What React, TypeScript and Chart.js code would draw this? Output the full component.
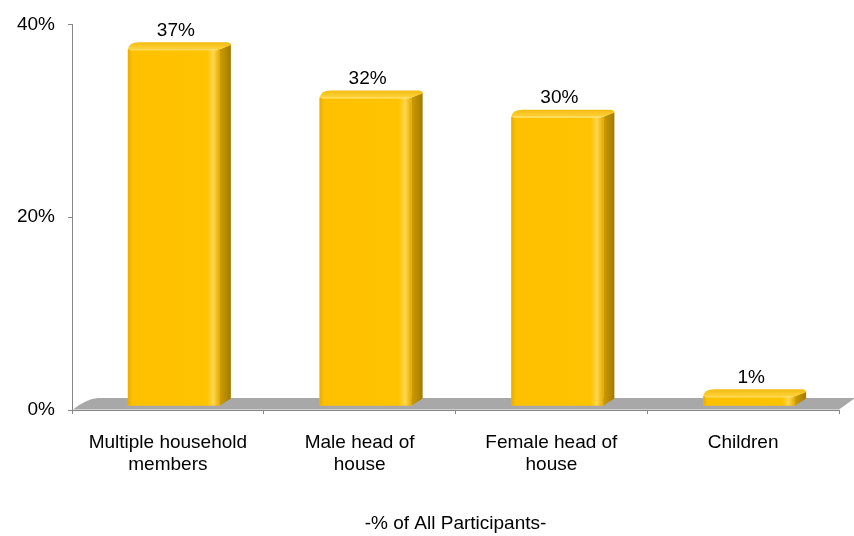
import React, { useEffect, useRef } from "react";
import { Chart, registerables } from "chart.js";

Chart.register(...registerables);

const categories: string[][] = [
  ["Multiple household", "members"],
  ["Male head of", "house"],
  ["Female head of", "house"],
  ["Children"],
];
const values: number[] = [37, 32, 30, 1];
const yMin = 0;
const yMax = 40;
const yStep = 20;
const axisTitle = "-% of All Participants-";

const FONT = '"Liberation Sans", Arial, Helvetica, sans-serif';
const SHIFT_X = 6;
const SHIFT_Y = -4;
const DEPTH_X = 11;
const DEPTH_Y = -7;
const FLOOR_X = 16;
const FLOOR_Y = -12;

const bar3d = {
  id: "bar3d",
  beforeDatasetsDraw(chart: any) {
    const { ctx, chartArea: a } = chart;
    ctx.save();
    const b = a.bottom - 0.5;
    ctx.beginPath();
    ctx.moveTo(a.left + 1, b);
    ctx.lineTo(a.right, b);
    ctx.lineTo(a.right + FLOOR_X, a.bottom + FLOOR_Y);
    ctx.lineTo(a.left + FLOOR_X + 10, a.bottom + FLOOR_Y);
    ctx.quadraticCurveTo(a.left + FLOOR_X - 2, a.bottom + FLOOR_Y + 1, a.left + 1, b);
    ctx.closePath();
    ctx.fillStyle = "#A8A8A8";
    ctx.fill();
    ctx.restore();
    ctx.save();
    ctx.translate(SHIFT_X, SHIFT_Y);
  },
  afterDatasetsDraw(chart: any) {
    const { ctx } = chart;
    const meta = chart.getDatasetMeta(0);
    meta.data.forEach((el: any, i: number) => {
      const { x, y, base, width } = el.getProps(["x", "y", "base", "width"], true);
      const left = x - width / 2;
      const right = x + width / 2;
      const top = Math.min(y, base);
      // front face
      const g = ctx.createLinearGradient(left, 0, right, 0);
      g.addColorStop(0, "#E9AC00");
      g.addColorStop(0.05, "#FFC000");
      g.addColorStop(0.86, "#FFC300");
      g.addColorStop(0.93, "#FFD64F");
      g.addColorStop(1, "#E3A900");
      ctx.fillStyle = g;
      ctx.fillRect(left, top, width, base - top);
      // side face
      const gs = ctx.createLinearGradient(right, 0, right + DEPTH_X, 0);
      gs.addColorStop(0, "#CC9C00");
      gs.addColorStop(1, "#A47A00");
      ctx.fillStyle = gs;
      ctx.beginPath();
      ctx.moveTo(right, top);
      ctx.lineTo(right + DEPTH_X, top + DEPTH_Y + 2);
      ctx.lineTo(right + DEPTH_X, base + DEPTH_Y);
      ctx.lineTo(right, base);
      ctx.closePath();
      ctx.fill();
      // top face
      const gt = ctx.createLinearGradient(0, top + DEPTH_Y, 0, top);
      gt.addColorStop(0, "#F2BC10");
      gt.addColorStop(1, "#FFD23C");
      ctx.fillStyle = gt;
      ctx.beginPath();
      ctx.moveTo(left, top);
      ctx.quadraticCurveTo(left + 1, top + DEPTH_Y, left + DEPTH_X, top + DEPTH_Y);
      ctx.lineTo(right + DEPTH_X - 4, top + DEPTH_Y);
      ctx.quadraticCurveTo(right + DEPTH_X, top + DEPTH_Y, right + DEPTH_X, top + DEPTH_Y + 3);
      ctx.lineTo(right, top);
      ctx.closePath();
      ctx.fill();
      // highlight edge
      ctx.strokeStyle = "rgba(255,232,130,0.9)";
      ctx.lineWidth = 1;
      ctx.beginPath();
      ctx.moveTo(left + 2, top + 0.5);
      ctx.lineTo(right - 2, top + 0.5);
      ctx.stroke();
      // label
      ctx.fillStyle = "#000";
      ctx.font = `19px ${FONT}`;
      ctx.textAlign = "center";
      ctx.textBaseline = "middle";
      ctx.fillText(values[i] + "%", x + 2, top - 19);
    });
    ctx.restore();
  },
};

export default function App() {
  const ref = useRef<HTMLCanvasElement | null>(null);
  useEffect(() => {
    if (!ref.current) return;
    Chart.defaults.font.family = FONT;
    Chart.defaults.color = "#000";
    const chart = new Chart(ref.current, {
      type: "bar",
      data: {
        labels: categories,
        datasets: [
          {
            data: values,
            backgroundColor: "#FFC000",
            borderWidth: 0,
            barPercentage: 0.48,
            categoryPercentage: 1,
            clip: false as any,
          },
        ],
      },
      options: {
        responsive: false,
        animation: false,
        devicePixelRatio: 1,
        layout: { padding: { top: 21, right: 15, left: 0, bottom: 0 } },
        plugins: {
          legend: { display: false },
          tooltip: { enabled: false },
        },
        scales: {
          x: {
            afterFit: (s: any) => {
              s.height = 126;
            },
            grid: {
              offset: true,
              drawOnChartArea: false,
              tickLength: 4,
              color: "#868686",
            },
            border: { color: "#868686" },
            ticks: {
              font: { size: 19 },
              color: "#000",
              padding: 17,
              maxRotation: 0,
              autoSkip: false,
            },
            title: {
              display: true,
              text: axisTitle,
              font: { size: 19 },
              color: "#000",
              padding: { top: 0, bottom: 1 },
            },
          },
          y: {
            min: yMin,
            max: yMax,
            afterFit: (s: any) => {
              s.width = 72;
            },
            grid: {
              drawOnChartArea: false,
              tickLength: 4,
              color: "#868686",
            },
            border: { color: "#868686" },
            ticks: {
              stepSize: yStep,
              padding: 13,
              font: { size: 19 },
              color: "#000",
              callback: (v: any) => v + "%",
            },
          },
        },
      },
      plugins: [bar3d],
    });
    return () => chart.destroy();
  }, []);
  return (
    <div style={{ position: "absolute", left: 0, top: 0, width: 854, height: 536, background: "#fff" }}>
      <canvas ref={ref} width={854} height={536} />
    </div>
  );
}
